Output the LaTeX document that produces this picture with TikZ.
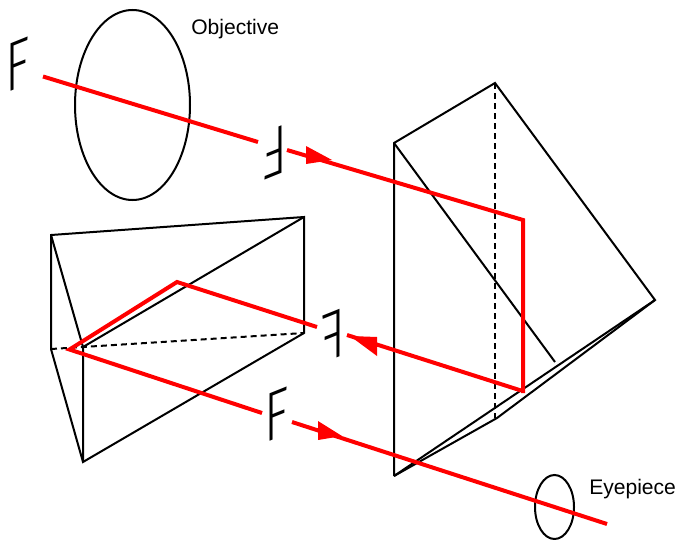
\documentclass[tikz,border=0pt]{standalone}
\usepackage{fontspec}
\setmainfont{Liberation Sans}
\newfontfamily\letterfont{Fira Sans Light}
\usepackage{xcolor}
\definecolor{RayRed}{HTML}{FF0000}
\tikzset{
  prismline/.style={line width=2pt*0.75,black,line join=miter},
  ray/.style={line width=4pt*0.75,RayRed,line join=miter},
  rayhead/.style={fill=RayRed,draw=none},
  objletter/.style={transform shape,inner sep=0pt,font=\letterfont\fontsize{52}{54}\selectfont},
  caption/.style={anchor=west,inner sep=0pt,font=\fontsize{15.8}{18}\selectfont}
}
\begin{document}
\begin{tikzpicture}[x=0.75pt,y=-0.75pt]
  \useasboundingbox (0,0) rectangle (677,539);
  % right prism
  \coordinate (ra) at (394,143);
  \coordinate (rb) at (495,83);
  \coordinate (rc) at (655,300);
  \coordinate (rd) at (394,476);
  \coordinate (re) at (555,362);
  \coordinate (rf) at (497,418);
  \draw[prismline] (rd)--(ra)--(rb)--(rc)--(rd);
  \draw[prismline] (ra)--(re);
  \draw[prismline] (rd)--(rf)--(rc);
  \draw[prismline,dash pattern=on 4.5pt off 3pt] (rb)--(rb|-rf);
  % left prism
  \coordinate (lp) at (51,235);
  \coordinate (lq) at (304,217);
  \coordinate (lr) at (304,333);
  \coordinate (ls) at (83,347);
  \coordinate (lt) at (51,349);
  \coordinate (lu) at (83,462);
  \draw[prismline] (lt)--(lp)--(lq)--(lr)--(lu)--cycle;
  \draw[prismline] (lp)--(ls)--(lu);
  \draw[prismline] (ls)--(lq);
  \draw[prismline,dash pattern=on 4.5pt off 3pt] (lt)--(lr);
  % lenses
  \draw[prismline] (132.5,105) ellipse [x radius=57.5,y radius=95];
  \draw[prismline] (554.5,507) ellipse [x radius=19.5,y radius=32];
  % light path
  \coordinate (r1) at (43,76.5);
  \coordinate (r2) at (258,142);
  \coordinate (r3) at (287,150);
  \coordinate (r4) at (523,220);
  \coordinate (r5) at (523,393);
  \coordinate (r5b) at (521,390.5);
  \coordinate (r6) at (347,335);
  \coordinate (r7) at (317,327);
  \coordinate (r8) at (177,282);
  \coordinate (r9) at (69.5,349.5);
  \coordinate (r10) at (262,413);
  \coordinate (r11) at (292,422);
  \coordinate (r12) at (607,524);
  \draw[ray] (r1)--(r2);
  \draw[ray] (r3)--(r4)--(r5);
  \draw[ray] (r5b)--(r6);
  \draw[ray] (r7)--(r8)--(r9)--(r10);
  \draw[ray] (r11)--(r12);
  \fill[rayhead] (306,146)--(306,164)--(332,160)--cycle;
  \fill[rayhead] (377,337)--(377,356)--(350,336)--cycle;
  \fill[rayhead] (318,421)--(318,440)--(342,436)--cycle;
  % image letters
  \node[objletter,cm={0.72,0.29,0,1,(18,65)}] (objF) {F};
  \node[objletter,cm={-0.72,-0.29,0,-1,(275,152)}] (firstF) {F};
  \node[objletter,cm={-0.72,-0.29,0,1,(333,336)}] (secondF) {F};
  \node[objletter,cm={0.72,0.29,0,1,(277,415)}] (thirdF) {F};
  % labels
  \node[caption] (objective) at (191,29) {Objective};
  \node[caption] (eyepiece) at (589,489) {Eyepiece};
\end{tikzpicture}
\end{document}
